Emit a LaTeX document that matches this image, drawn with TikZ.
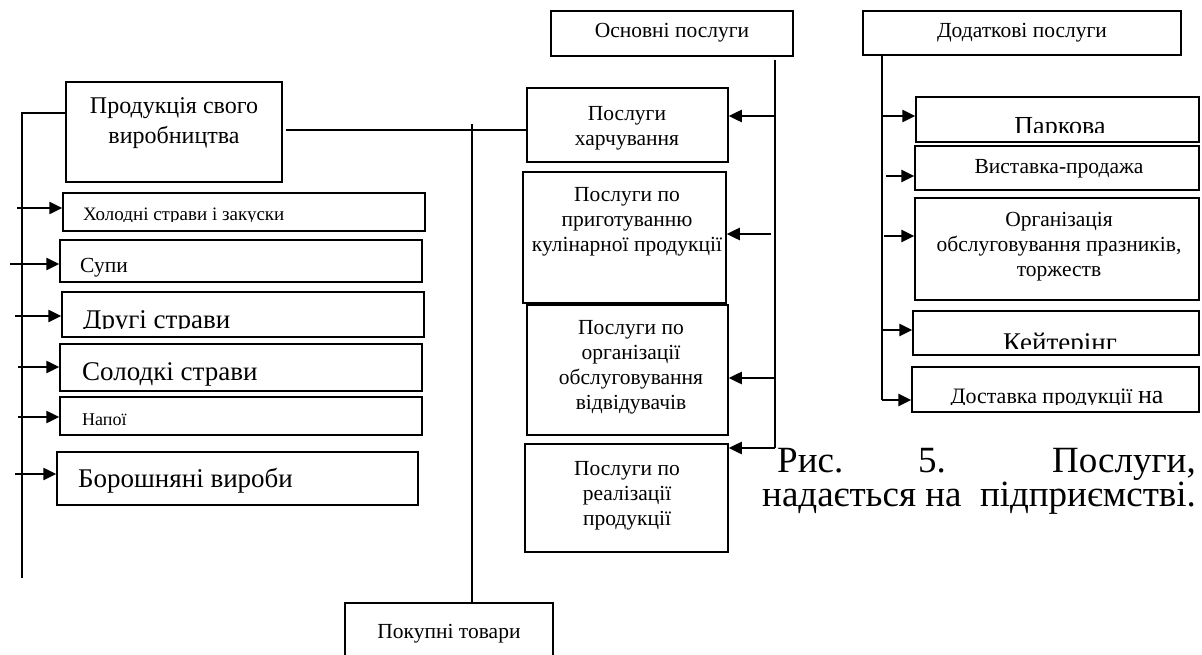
\documentclass[tikz,border=0pt]{standalone}
\usepackage{fontspec}
\setmainfont{Liberation Serif}
\usetikzlibrary{arrows.meta,fit}
\begin{document}
\begin{tikzpicture}[x=1pt,y=-1pt,
 box/.style={draw,line width=1.5pt,inner sep=0pt},
 ln/.style={line width=1.6pt},
 arr/.style={line width=2.5pt,-{Triangle[length=13pt,width=12pt]}},
 tx/.style={inner sep=0pt,align=center,font=\fontsize{21.5}{25}\selectfont},
 tl/.style={inner sep=0pt,anchor=base west},
 tc/.style={inner sep=0pt,anchor=base},
]
\useasboundingbox (0,0) rectangle (1202,655);
\clip (0,0) rectangle (1202,655);
\fill[white] (0,0) rectangle (1202,655);

% ---- boxes ----
\node[box,fit={(66,82) (282,182)}] (P) {};
\node[box,fit={(551,11) (793,56)}] (OS) {};
\node[box,fit={(863,11) (1181,55)}] (DD) {};
\node[box,fit={(527,88) (728,162)}] (H) {};
\node[box,fit={(523,172) (726,303)}] (K) {};
\node[box,fit={(527,305) (728,435)}] (O) {};
\node[box,fit={(525,444) (728,552)}] (R) {};
\node[box,fit={(345,603) (553,675)}] (PT) {};
\node[box,fit={(63,193) (425,231)}] (C1) {};
\node[box,fit={(60,240) (422,282)}] (C2) {};
\node[box,fit={(62,292) (424,337)}] (C3) {};
\node[box,fit={(60,344) (422,391)}] (C4) {};
\node[box,fit={(60,397) (422,435)}] (C5) {};
\node[box,fit={(57,452) (418,505)}] (C6) {};
\node[box,fit={(916,97) (1199,142)}] (D1) {};
\node[box,fit={(915,146) (1199,190)}] (D2) {};
\node[box,fit={(915,198) (1199,300)}] (D3) {};
\node[box,fit={(913,311) (1199,355)}] (D4) {};
\node[box,fit={(912,367) (1199,412)}] (D5) {};

% ---- texts ----
\node[tx,font=\fontsize{24}{30}\selectfont] (tP) at (174,123) {Продукція свого\\виробництва};
\node[tx] (tOS) at (672,33) {Основні послуги};
\node[tx] (tDD) at (1022,33) {Додаткові послуги};
\node[tx] (tH) at (627,128) {Послуги\\харчування};
\node[tx] (tK) at (627,222) {Послуги по\\приготуванню\\кулінарної продукції};
\node[tx] (tO) at (631,367) {Послуги по\\організації\\обслуговування\\відвідувачів};
\node[tx] (tR) at (627,496) {Послуги по\\реалізації\\продукції};
\node[tx] (tPT) at (449,634) {Покупні товари};

\begin{scope}
\clip (C1.north west) rectangle (425,222);
\node[tl,font=\fontsize{19}{22}\selectfont] (t1) at (83,220.5) {Холодні страви і закуски};
\end{scope}
\node[tl,font=\fontsize{21.5}{25}\selectfont] (t2) at (80,272) {Супи};
\begin{scope}
\clip (C3.north west) rectangle (424,328);
\node[tl,font=\fontsize{27}{31}\selectfont] (t3) at (83,328) {Другі страви};
\end{scope}
\node[tl,font=\fontsize{27}{31}\selectfont] (t4) at (82,380) {Солодкі страви};
\node[tl,font=\fontsize{18}{21}\selectfont] (t5) at (82,425) {Напої};
\node[tl,font=\fontsize{27}{31}\selectfont] (t6) at (78,487) {Борошняні вироби};

\begin{scope}
\clip (D1.north west) rectangle (1199,133);
\node[tc,font=\fontsize{26}{30}\selectfont] (u1) at (1060,135) {Паркова};
\end{scope}
\node[tx] (u2) at (1059,169) {Виставка-продажа};
\node[tx] (u3) at (1059,247) {Організація\\обслуговування празників,\\торжеств};
\begin{scope}
\clip (D4.north west) rectangle (1199,348);
\node[tc,font=\fontsize{27}{31}\selectfont] (u4) at (1060,351) {Кейтерінг};
\end{scope}
\begin{scope}
\clip (D5.north west) rectangle (1199,404);
\node[tc,font=\fontsize{22}{26}\selectfont] (u5) at (1057,403) {Доставка продукції {\fontsize{26}{30}\selectfont на}};
\end{scope}

% caption
\node[tl,font=\fontsize{37}{42}\selectfont] (cap1) at (777,472) {Рис.};
\node[tl,font=\fontsize{37}{42}\selectfont] (cap2) at (918,472) {5.};
\node[inner sep=0pt,anchor=base east,font=\fontsize{37}{42}\selectfont] (cap3) at (1196,472) {Послуги,};
\node[tl,font=\fontsize{37}{42}\selectfont] (cap4) at (762,506) {надається на\ \ підприємстві.};

% ---- connectors ----
% left bus
\coordinate (Ltop) at (22,113);
\coordinate (Lbot) at (22,578);
\draw[ln] (Lbot) -- (Ltop) -- (P.west |- Ltop);
\coordinate (a1) at (17,208);
\coordinate (a2) at (10,264);
\coordinate (a3) at (15,316);
\coordinate (a4) at (18,367);
\coordinate (a5) at (18,417);
\coordinate (a6) at (15,474);
\draw[arr] (a1) -- (C1.west |- a1);
\draw[arr] (a2) -- (C2.west |- a2);
\draw[arr] (a3) -- (C3.west |- a3);
\draw[arr] (a4) -- (C4.west |- a4);
\draw[arr] (a5) -- (C5.west |- a5);
\draw[arr] (a6) -- (C6.west |- a6);

% middle
\coordinate (m1) at (286,130);
\draw[ln] (m1) -- (H.west |- m1);
\coordinate (v1) at (472,124);
\draw[ln] (v1) -- (PT.north -| v1);

% main services bus
\coordinate (ob) at (775,60);
\coordinate (oc) at (775,448);
\draw[ln] (ob) -- (oc);
\draw[arr] (oc) -- (R.east |- oc);
\coordinate (o1) at (775,116);
\coordinate (o2) at (771,234);
\coordinate (o3) at (775,378);
\draw[arr] (o1) -- (H.east |- o1);
\draw[arr] (o2) -- (K.east |- o2);
\draw[arr] (o3) -- (O.east |- o3);

% additional services bus
\coordinate (dt) at (882,55);
\coordinate (db) at (882,400);
\draw[ln] (DD.south -| dt) -- (db);
\draw[arr] (db) -- (D5.west |- db);
\coordinate (d1) at (882,116);
\coordinate (d2) at (886,176);
\coordinate (d3) at (884,236);
\coordinate (d4) at (881,330);
\draw[arr] (d1) -- (D1.west |- d1);
\draw[arr] (d2) -- (D2.west |- d2);
\draw[arr] (d3) -- (D3.west |- d3);
\draw[arr] (d4) -- (D4.west |- d4);
\end{tikzpicture}
\end{document}
